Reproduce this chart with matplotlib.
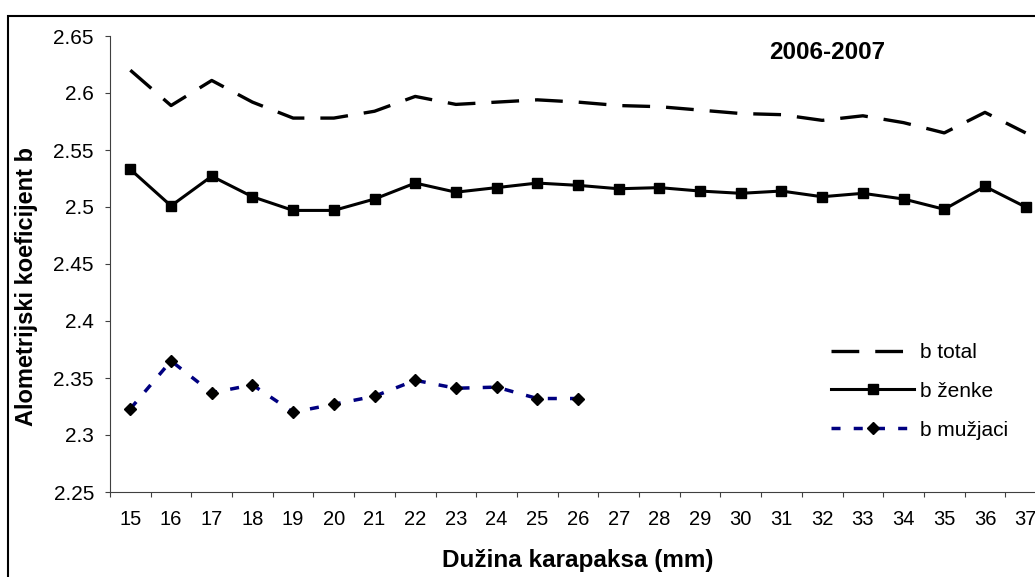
import matplotlib
matplotlib.use("Agg")
import matplotlib.pyplot as plt
from matplotlib.patches import Rectangle
import numpy as np

# Podaci (procjena s grafikona)
duzina = [15, 16, 17, 18, 19, 20, 21, 22, 23, 24, 25, 26,
          27, 28, 29, 30, 31, 32, 33, 34, 35, 36, 37]
b_total = [2.620, 2.589, 2.611, 2.592, 2.578, 2.578, 2.584, 2.597, 2.590, 2.592,
           2.594, 2.592, 2.589, 2.588, 2.585, 2.582, 2.581, 2.576, 2.580, 2.574,
           2.565, 2.583, 2.565]
b_zenke = [2.533, 2.501, 2.527, 2.509, 2.497, 2.497, 2.507, 2.521, 2.513, 2.517,
           2.521, 2.519, 2.516, 2.517, 2.514, 2.512, 2.514, 2.509, 2.512, 2.507,
           2.498, 2.518, 2.500]
b_muzjaci = [2.323, 2.365, 2.337, 2.344, 2.320, 2.327, 2.334, 2.348, 2.341, 2.342,
             2.332, 2.332]
y_ticks = [2.25, 2.3, 2.35, 2.4, 2.45, 2.5, 2.55, 2.6, 2.65]
y_tick_labels = ['2.25', '2.3', '2.35', '2.4', '2.45', '2.5', '2.55', '2.6', '2.65']

plt.rcParams['font.family'] = ['Liberation Sans', 'DejaVu Sans']
plt.rcParams['lines.scale_dashes'] = False

W, H = 1035, 577
fig = plt.figure(figsize=(W / 100, H / 100), dpi=100)
fig.patch.set_facecolor('white')

# okvir oko cijelog grafikona (desno i dolje je odrezan)
fig.patches.append(Rectangle((8 / W, -0.1), 1.2, 1 - 16 / H + 0.1,
                             transform=fig.transFigure, fill=False,
                             edgecolor='black', linewidth=1.5))

ax = fig.add_axes([110 / W, 1 - 492 / H, 936 / W, 456 / H])
x = np.arange(len(duzina))

ax.plot(x, b_total, color='black', linewidth=2.4, dashes=(20, 11.5),
        label='b total')
ax.plot(x, b_zenke, color='black', linewidth=2.2, marker='s', markersize=7.5,
        label='b ženke')
ax.plot(x[:len(b_muzjaci)], b_muzjaci, color='#000080', linewidth=2.5,
        dashes=(6.5, 9.5), marker='D', markersize=5.8,
        markerfacecolor='black', markeredgecolor='black', label='b mužjaci')

ax.set_xlim(-0.5, len(duzina) - 0.5)
ax.set_ylim(2.25, 2.65)

ax.set_yticks(y_ticks)
ax.set_yticklabels(y_tick_labels, fontsize=15)
ax.tick_params(axis='y', length=3.6, width=0.8, color='#404040', pad=8)

ax.set_xticks(x)
ax.set_xticklabels([str(d) for d in duzina], fontsize=14.5)
ax.set_xticks(np.arange(-0.5, len(duzina), 1.0), minor=True)
ax.tick_params(axis='x', which='major', length=0, pad=13)
ax.tick_params(axis='x', which='minor', length=3.6, width=0.8, color='#404040')

for side in ['top', 'right']:
    ax.spines[side].set_visible(False)
for side in ['left', 'bottom']:
    ax.spines[side].set_color('#404040')
    ax.spines[side].set_linewidth(0.8)

leg = ax.legend(loc='upper left', bbox_to_anchor=(831 / W, 1 - 343 / H),
                bbox_transform=fig.transFigure, frameon=False, fontsize=15,
                handlelength=4.0, handletextpad=0.25, labelspacing=0.95,
                borderpad=0, borderaxespad=0, numpoints=1)

fig.text(827 / W, 1 - 59.3 / H, '2006-2007', ha='center', va='baseline',
         fontsize=17.5, fontweight='bold')
fig.text(578 / W, 1 - 566.7 / H, 'Dužina karapaksa (mm)', ha='center',
         va='baseline', fontsize=17.5, fontweight='bold')
fig.text(27 / W, 1 - 287 / H, 'Alometrijski koeficijent b', ha='center',
         va='center', rotation=90, fontsize=17, fontweight='bold')

fig.savefig('out.png', dpi=100)
